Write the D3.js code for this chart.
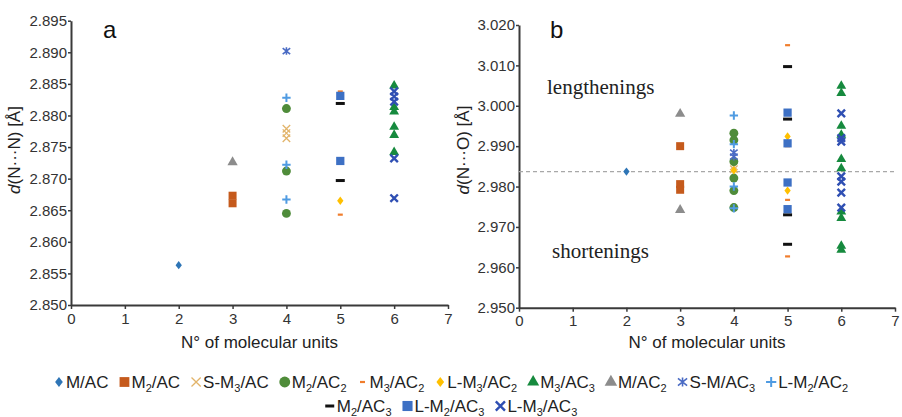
<!DOCTYPE html>
<html>
<head>
<meta charset="utf-8">
<script src="https://cdn.jsdelivr.net/npm/d3@7"></script>
<style>
  html, body { margin: 0; padding: 0; background: #fff; }
  svg { display: block; font-family: Arial, "Liberation Sans", sans-serif; }
</style>
</head>
<body>
<svg id="chart" width="902" height="417"></svg>
<script>

// Series, in legend order ("_2" marks a subscript).
var seriesKeys = ['MAC', 'M2AC', 'SM3AC', 'M2AC2', 'M3AC2', 'LM3AC2', 'M3AC3',
  'MAC2', 'SMAC3', 'LM2AC2', 'M2AC3', 'LM2AC3', 'LM3AC3'];
var seriesLabels = ['M/AC', 'M_2/AC', 'S-M_3/AC', 'M_2/AC_2', 'M_3/AC_2',
  'L-M_3/AC_2', 'M_3/AC_3', 'M/AC_2', 'S-M/AC_3', 'L-M_2/AC_2', 'M_2/AC_3',
  'L-M_2/AC_3', 'L-M_3/AC_3'];

// Axis ticks.
var xTicks = [0, 1, 2, 3, 4, 5, 6, 7];
var nnTicks = [2.850, 2.855, 2.860, 2.865, 2.870, 2.875, 2.880, 2.885, 2.890, 2.895];
var noTicks = [2.950, 2.960, 2.970, 2.980, 2.990, 3.000, 3.010, 3.020];

// Panel a: d(N...N), [units, value].
var nnPoints = {
  MAC:    [[2, 2.8563]],
  M2AC:   [[3, 2.8673], [3, 2.8661]],
  SM3AC:  [[4, 2.8779], [4, 2.8772], [4, 2.8764]],
  M2AC2:  [[4, 2.8811], [4, 2.8712], [4, 2.8645]],
  M3AC2:  [[5, 2.8838], [5, 2.8643]],
  LM3AC2: [[5, 2.8665]],
  M3AC3:  [[6, 2.8847], [6, 2.8813], [6, 2.8806], [6, 2.8782], [6, 2.8769],
           [6, 2.8742]],
  MAC2:   [[3, 2.8726]],
  SMAC3:  [[4, 2.8902]],
  LM2AC2: [[4, 2.8828], [4, 2.8722], [4, 2.8667]],
  M2AC3:  [[5, 2.8819], [5, 2.8697]],
  LM2AC3: [[5, 2.8831], [5, 2.8728]],
  LM3AC3: [[6, 2.8838], [6, 2.8830], [6, 2.8822], [6, 2.8732], [6, 2.8669]]
};

// Panel b: d(N...O), [units, value].
var noPoints = {
  MAC:    [[2, 2.9837]],
  M2AC:   [[3, 2.9900], [3, 2.9806], [3, 2.9792]],
  SM3AC:  [[4, 2.9850], [4, 2.9843]],
  M2AC2:  [[4, 2.9932], [4, 2.9915], [4, 2.9862], [4, 2.9821], [4, 2.9790],
           [4, 2.9748]],
  M3AC2:  [[5, 3.0150], [5, 2.9900], [5, 2.9767], [5, 2.9627]],
  LM3AC2: [[4, 2.9840], [5, 2.9924], [5, 2.9790]],
  M3AC3:  [[6, 3.0049], [6, 3.0031], [6, 2.9950], [6, 2.9928], [6, 2.9868],
           [6, 2.9845], [6, 2.9738], [6, 2.9722], [6, 2.9653], [6, 2.9643]],
  MAC2:   [[3, 2.9980], [3, 2.9742]],
  SMAC3:  [[4, 2.9884], [4, 2.9874]],
  LM2AC2: [[4, 2.9976], [4, 2.9905], [4, 2.9800], [4, 2.9746]],
  M2AC3:  [[5, 3.0097], [5, 2.9967], [5, 2.9730], [5, 2.9657]],
  LM2AC3: [[5, 2.9983], [5, 2.9907], [5, 2.9810], [5, 2.9744]],
  LM3AC3: [[6, 2.9981], [6, 2.9920], [6, 2.9911], [6, 2.9825], [6, 2.9812],
           [6, 2.9785], [6, 2.9748]]
};

var noReference = 2.9837;


/**
 * Custom marker shapes for d3.symbol.
 */
function rectType(w, h) {
  return { draw: function(ctx) { ctx.rect(-w / 2, -h / 2, w, h); } };
}

var diamondType = {
  draw: function(ctx, size) {
    var r = Math.sqrt(size) / 2;
    ctx.moveTo(0, -r * 1.25); ctx.lineTo(r * 0.95, 0);
    ctx.lineTo(0, r * 1.25); ctx.lineTo(-r * 0.95, 0); ctx.closePath();
  }
};

var xType = {
  draw: function(ctx, size) {
    var r = Math.sqrt(size) / 2;
    ctx.moveTo(-r, -r); ctx.lineTo(r, r);
    ctx.moveTo(r, -r); ctx.lineTo(-r, r);
  }
};

var plusType = {
  draw: function(ctx, size) {
    var r = Math.sqrt(size) / 2;
    ctx.moveTo(-r, 0); ctx.lineTo(r, 0);
    ctx.moveTo(0, -r); ctx.lineTo(0, r);
  }
};

var asteriskType = {
  draw: function(ctx, size) {
    var r = Math.sqrt(size) / 2;
    ctx.moveTo(-r, -r * 0.8); ctx.lineTo(r, r * 0.8);
    ctx.moveTo(r, -r * 0.8); ctx.lineTo(-r, r * 0.8);
    ctx.moveTo(0, -r); ctx.lineTo(0, r);
  }
};

// Marker style per series.
var styles = {
  MAC:    { type: diamondType, size: 44, fill: '#2e75b6' },
  M2AC:   { type: d3.symbolSquare, size: 64, fill: '#c55a1c' },
  SM3AC:  { type: xType, size: 56, stroke: '#e2b46a', sw: 1.3 },
  M2AC2:  { type: d3.symbolCircle, size: 62, fill: '#4f8c3a' },
  M3AC2:  { type: rectType(5, 2.2), size: 20, fill: '#f07d2c' },
  LM3AC2: { type: diamondType, size: 44, fill: '#ffc000' },
  M3AC3:  { type: d3.symbolTriangle, size: 42, fill: '#168a3e' },
  MAC2:   { type: d3.symbolTriangle, size: 46, fill: '#8c8c8c' },
  SMAC3:  { type: asteriskType, size: 56, stroke: '#4a6bc4', sw: 1.6 },
  LM2AC2: { type: plusType, size: 70, stroke: '#4f9be2', sw: 2 },
  M2AC3:  { type: rectType(9, 3), size: 30, fill: '#111' },
  LM2AC3: { type: d3.symbolSquare, size: 68, fill: '#3d70c4' },
  LM3AC3: { type: xType, size: 56, stroke: '#2f4fb3', sw: 2.4 }
};


var svg = d3.select('#chart');


/**
 * Write a label with "_n" subscripts into a text element.
 */
function subText(text, label, subSize) {
  var lowered = false;
  label.split(/(_\d)/).forEach(function(part) {
    if (!part) return;
    if (part[0] === '_') {
      text.append('tspan').attr('dy', 4).attr('font-size', subSize)
        .text(part.slice(1));
      lowered = true;
    } else {
      text.append('tspan').attr('dy', lowered ? -4 : null).text(part);
      lowered = false;
    }
  });
}


/**
 * Draw one panel.
 */
function drawPanel(p) {

  var x = d3.scaleLinear().domain([0, 7]).range([p.left, p.right]);
  var y = d3.scaleLinear().domain(p.yDomain).range([p.bottom, p.top]);
  var g = svg.append('g');

  // Axes.
  var xAxis = g.append('g')
    .attr('transform', 'translate(0,' + p.bottom + ')')
    .call(d3.axisBottom(x).tickValues(xTicks).tickFormat(d3.format('d'))
      .tickSize(4).tickPadding(4).tickSizeOuter(0));

  var yAxis = g.append('g')
    .attr('transform', 'translate(' + p.left + ',0)')
    .call(d3.axisLeft(y).tickValues(p.yTicks).tickFormat(d3.format('.3f'))
      .tickSize(3).tickPadding(1).tickSizeOuter(0));

  [xAxis, yAxis].forEach(function(a) {
    a.selectAll('.domain').attr('stroke', '#3a3a3a').attr('stroke-width', 2);
    a.selectAll('.tick line').attr('stroke', '#3a3a3a').attr('stroke-width', 1.5);
    a.selectAll('.tick text').attr('fill', '#333').attr('font-size', 15)
      .attr('font-family', 'Arial, "Liberation Sans", sans-serif');
  });

  // Reference line.
  if (p.reference) {
    g.append('line')
      .attr('x1', p.left).attr('x2', p.right)
      .attr('y1', y(p.reference)).attr('y2', y(p.reference))
      .attr('stroke', '#a8a8a8').attr('stroke-width', 1.3)
      .attr('stroke-dasharray', '4,3');
  }

  // Points, in legend order.
  seriesKeys.forEach(function(key) {
    var s = styles[key];
    var sym = d3.symbol().type(s.type).size(s.size);
    g.append('g').selectAll('path')
      .data(p.data[key] || [])
      .join('path')
      .attr('transform', function(d) {
        return 'translate(' + x(d[0]) + ',' + y(d[1]) + ')';
      })
      .attr('d', sym)
      .attr('fill', s.fill || 'none')
      .attr('stroke', s.stroke || 'none')
      .attr('stroke-width', s.sw || 0);
  });

  // Titles.
  g.append('text')
    .attr('x', (p.left + p.right) / 2).attr('y', 348)
    .attr('text-anchor', 'middle').attr('font-size', 17).attr('fill', '#222')
    .text('N\u00b0 of molecular units');

  var yt = g.append('text')
    .attr('transform', 'translate(' + p.titleX + ',150) rotate(-90)')
    .attr('text-anchor', 'middle').attr('font-size', 17).attr('fill', '#222');
  yt.append('tspan').attr('font-style', 'italic').text('d');
  yt.append('tspan').text(p.yTitle);

  g.append('text')
    .attr('x', p.letterX).attr('y', 38)
    .attr('font-size', 24).attr('fill', '#111')
    .text(p.letter);

  (p.notes || []).forEach(function(n) {
    g.append('text')
      .attr('x', n[0]).attr('y', n[1])
      .attr('font-family', '"Liberation Serif", "Times New Roman", serif')
      .attr('font-size', 21).attr('fill', '#222')
      .text(n[2]);
  });
}


drawPanel({
  data: nnPoints, yDomain: [2.850, 2.895], yTicks: nnTicks,
  left: 71, right: 448, top: 20.7, bottom: 305,
  titleX: 20, yTitle: '(N\u00b7\u00b7\u00b7N)  [\u00c5]',
  letter: 'a', letterX: 103
});

drawPanel({
  data: noPoints, yDomain: [2.950, 3.020], yTicks: noTicks,
  left: 519, right: 895, top: 25, bottom: 307.7,
  titleX: 469, yTitle: '(N\u00b7\u00b7\u00b7O)  [\u00c5]',
  letter: 'b', letterX: 550, reference: noReference,
  notes: [[547, 94, 'lengthenings'], [552, 258, 'shortenings']]
});


/**
 * Legend, two centred rows.
 */
var legendRows = [seriesKeys.slice(0, 10), seriesKeys.slice(10)];
var legendY = [382, 406];
var legendGap = 11;

legendRows.forEach(function(row, ri) {

  var lg = svg.append('g');
  var cursor = 0;

  row.forEach(function(key) {
    var s = styles[key];
    var item = lg.append('g').attr('transform', 'translate(' + cursor + ',0)');
    var sym = d3.symbol().type(s.type).size(s.size * 1.5);

    item.append('path')
      .attr('transform', 'translate(5,0)')
      .attr('d', sym)
      .attr('fill', s.fill || 'none')
      .attr('stroke', s.stroke || 'none')
      .attr('stroke-width', s.sw || 0);

    var t = item.append('text')
      .attr('x', 12).attr('y', 6)
      .attr('font-size', 17).attr('fill', '#222');
    subText(t, seriesLabels[seriesKeys.indexOf(key)], 11);

    cursor += 12 + t.node().getComputedTextLength() + legendGap;
  });

  var width = cursor - legendGap;
  lg.attr('transform', 'translate(' + (451 - width / 2) + ',' + legendY[ri] + ')');
});

</script>
</body>
</html>
